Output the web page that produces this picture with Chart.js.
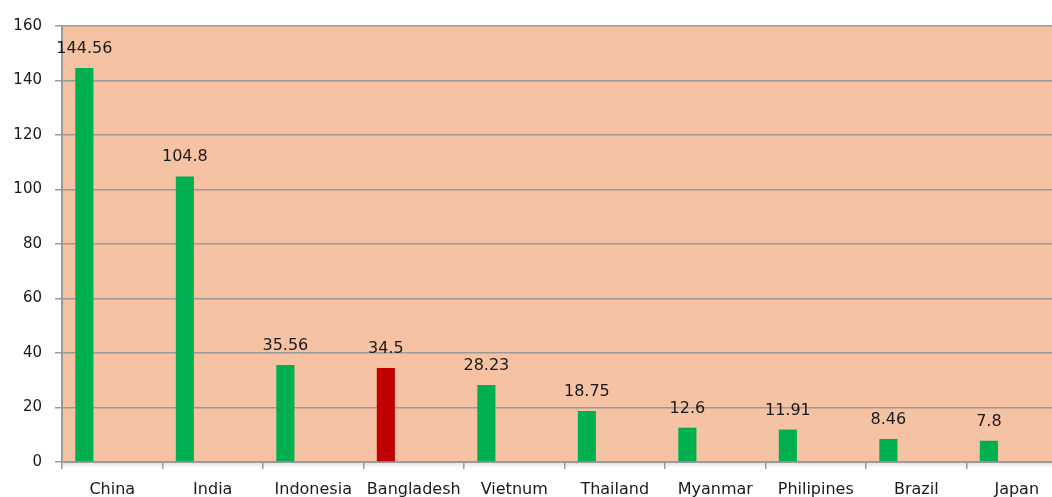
<!DOCTYPE html>
<html>
<head>
<meta charset="utf-8">
<script src="https://cdn.jsdelivr.net/npm/chart.js@4/dist/chart.umd.min.js"></script>
<style>
  html, body { margin: 0; padding: 0; overflow: hidden; background: #ffffff; }
  #wrap { position: absolute; left: 0; top: 0; width: 1070px; height: 497px; }
</style>
</head>
<body>
<div id="wrap"><canvas id="c"></canvas></div>
<script>
const categories = ["China", "India", "Indonesia", "Bangladesh", "Vietnum", "Thailand", "Myanmar", "Philipines", "Brazil", "Japan"];
const values = [144.56, 104.8, 35.56, 34.5, 28.23, 18.75, 12.6, 11.91, 8.46, 7.8];
const highlight = "Bangladesh";
const yTicks = [0, 20, 40, 60, 80, 100, 120, 140, 160];

const GREEN = "#00B050";
const RED = "#C00000";
const barColors = categories.map(c => c === highlight ? RED : GREEN);

const bgPlugin = {
  id: "bg",
  beforeDraw(chart) {
    const { ctx, chartArea: a } = chart;
    ctx.save();
    ctx.fillStyle = "#F6C2A4";
    ctx.fillRect(a.left, a.top, a.right - a.left, a.bottom - a.top);
    // soft shadow under the bottom axis
    const g = ctx.createLinearGradient(0, a.bottom, 0, a.bottom + 6);
    g.addColorStop(0, "rgba(0,0,0,0.12)");
    g.addColorStop(1, "rgba(0,0,0,0)");
    ctx.fillStyle = g;
    ctx.fillRect(a.left, a.bottom, a.right - a.left, 6);
    ctx.restore();
  }
};

const labelPlugin = {
  id: "vlabels",
  afterDatasetsDraw(chart) {
    const { ctx } = chart;
    const meta = chart.getDatasetMeta(0);
    ctx.save();
    ctx.font = "16px 'DejaVu Sans'";
    ctx.fillStyle = "#1a1a1a";
    ctx.textAlign = "center";
    ctx.textBaseline = "alphabetic";
    meta.data.forEach((bar, i) => {
      ctx.fillText(String(values[i]), bar.x, bar.y - 15);
    });
    ctx.restore();
  }
};

new Chart(document.getElementById("c"), {
  type: "bar",
  data: {
    labels: categories,
    datasets: [
      { data: values, backgroundColor: barColors, borderWidth: 0 },
      { data: categories.map(() => null), backgroundColor: GREEN }
    ]
  },
  options: {
    responsive: true,
    maintainAspectRatio: false,
    animation: false,
    categoryPercentage: 1.11,
    barPercentage: 0.325,
    layout: { padding: { left: 0, right: 3, top: 26, bottom: 0 } },
    plugins: { legend: { display: false }, tooltip: { enabled: false } },
    scales: {
      x: {
        grid: { display: true, drawOnChartArea: false, drawTicks: true, tickLength: 7, color: "#9a9a9a", lineWidth: 1.5 },
        border: { display: true, color: "#9a9a9a", width: 2 },
        ticks: { font: { family: "'DejaVu Sans'", size: 16 }, color: "#1a1a1a", maxRotation: 0, autoSkip: false, padding: 11 },
        afterFit(s) { s.height = 35; }
      },
      y: {
        min: 0, max: 160,
        afterBuildTicks(s) { s.ticks = yTicks.map(v => ({ value: v })); },
        grid: { color: "#9a9a9a", lineWidth: 1.5, tickLength: 7, drawTicks: true },
        border: { display: true, color: "#9a9a9a", width: 2 },
        ticks: { font: { family: "'DejaVu Sans'", size: 15 }, color: "#1a1a1a", padding: 13 },
        afterFit(s) { s.width = 62; }
      }
    }
  },
  plugins: [bgPlugin, labelPlugin]
});
</script>
</body>
</html>
